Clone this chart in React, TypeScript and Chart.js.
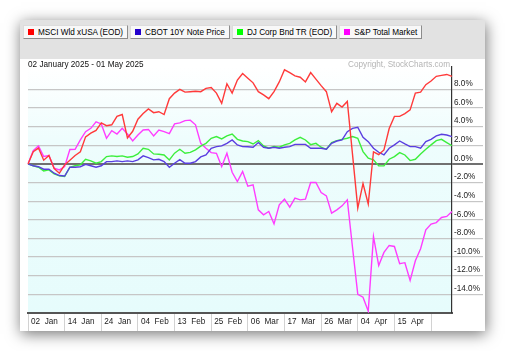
import React, { useEffect, useRef } from "react";
import { Chart, registerables } from "chart.js";

Chart.register(...registerables);

const FONT = "Arial, 'Liberation Sans', sans-serif";

// Trading days, 02 Jan 2025 - 01 May 2025
const dates = [
  "02 Jan","03 Jan","06 Jan","07 Jan","08 Jan","10 Jan","13 Jan","14 Jan","15 Jan","16 Jan",
  "17 Jan","21 Jan","22 Jan","23 Jan","24 Jan","27 Jan","28 Jan","29 Jan","30 Jan","31 Jan",
  "03 Feb","04 Feb","05 Feb","06 Feb","07 Feb","10 Feb","11 Feb","12 Feb","13 Feb","14 Feb",
  "18 Feb","19 Feb","20 Feb","21 Feb","24 Feb","25 Feb","26 Feb","27 Feb","28 Feb","03 Mar",
  "04 Mar","05 Mar","06 Mar","07 Mar","10 Mar","11 Mar","12 Mar","13 Mar","14 Mar","17 Mar",
  "18 Mar","19 Mar","20 Mar","21 Mar","24 Mar","25 Mar","26 Mar","27 Mar","28 Mar","31 Mar",
  "01 Apr","02 Apr","03 Apr","04 Apr","07 Apr","08 Apr","09 Apr","10 Apr","11 Apr","14 Apr",
  "15 Apr","16 Apr","17 Apr","21 Apr","22 Apr","23 Apr","24 Apr","25 Apr","28 Apr","29 Apr",
  "30 Apr","01 May"
];

// % change since 02 Jan 2025
const msciWldXUsa = [
  0, 1.3, 1.7, 0.4, 0.9, -0.5, -1.0, -0.1, 0.4, 0.9,
  1.3, 2.9, 3.3, 3.6, 4.4, 4.1, 4.2, 5.1, 5.3, 2.8,
  3.5, 4.8, 5.4, 5.9, 5.5, 5.6, 5.3, 7.0, 7.6, 8.0,
  7.7, 7.75, 7.8, 7.75, 8.1, 8.2, 7.6, 6.5, 8.6, 7.6,
  9.0, 9.7, 9.2, 8.7, 7.75, 7.4, 7.0, 7.75, 8.8, 10.1,
  9.8, 9.45, 9.3, 8.8, 9.8, 9.1, 8.4, 7.75, 5.6, 6.5,
  6.1, 6.7, 1.0, -4.75, -2.1, -4.3, 1.3, 1.0, 1.5, 3.8,
  5.1, 5.1, 5.4, 5.8, 7.6, 7.7, 8.5, 8.9, 9.4, 9.5,
  9.6, 9.4
];

const cbot10yNote = [
  0, -0.2, -0.3, -0.57, -0.57, -1.0, -1.25, -1.3, -0.36, -0.36,
  -0.3, -0.05, -0.2, -0.36, -0.2, 0.25, 0.25, 0.32, 0.25, 0.32,
  0.25, 0.43, 0.86, 0.68, 0.43, 0.5, 0.25, -0.36, 0.07, 0.45,
  0.07, 0.07, 0.25, 0.75, 0.96, 1.68, 1.86, 1.93, 2.21, 2.57,
  2.04, 1.86, 1.84, 1.79, 2.29, 1.79, 1.68, 1.79, 1.68, 1.79,
  1.86, 2.1, 2.1, 2.1, 1.68, 1.68, 1.68, 1.57, 2.21, 2.46,
  2.57, 3.46, 3.82, 3.93, 2.86, 2.39, 1.68, 1.25, 0.96, 1.68,
  2.04, 2.46, 2.14, 1.86, 1.86, 1.68, 2.39, 2.64, 3.0, 3.18,
  3.1, 2.93
];

const djCorpBond = [
  0, -0.2, -0.36, -0.75, -0.64, -1.07, -1.29, -1.36, -0.36, -0.2,
  -0.1, 0.5, 0.32, 0.07, 0.25, 0.79, 0.86, 0.79, 0.86, 0.71,
  0.79, 1.07, 1.68, 1.57, 1.07, 1.04, 0.96, 0.43, 1.15, 1.57,
  1.14, 1.23, 1.5, 1.9, 2.21, 2.75, 2.93, 2.68, 3.0, 3.21,
  2.64, 2.46, 2.39, 2.14, 2.5, 1.93, 1.68, 1.86, 1.79, 2.04,
  2.21, 2.57, 2.86, 2.57, 2.07, 2.21, 1.79, 1.57, 2.29, 2.5,
  2.64, 2.75, 2.93, 2.75, 1.32, 0.61, 0.43, -0.21, -0.21, 0.5,
  0.79, 1.21, 0.96, 0.36, 0.5, 1.07, 1.57, 2.04, 2.5, 2.64,
  2.29, 1.95
];

const spTotalMarket = [
  0, 1.43, 1.93, 0.79, 0.89, -0.46, -0.64, -0.29, 1.55, 1.57,
  2.57, 3.46, 3.82, 4.52, 4.29, 2.75, 3.57, 3.21, 3.82, 3.21,
  2.46, 3.11, 3.64, 3.7, 3.0, 3.64, 3.46, 3.25, 4.3, 4.4,
  4.65, 4.7, 4.2, 2.21, 1.68, 1.21, 1.14, -0.29, 1.14, -0.9,
  -1.9, -0.82, -2.4, -2.25, -4.93, -5.46, -5.1, -6.43, -4.39, -3.79,
  -4.64, -3.68, -3.86, -3.79, -2.0, -2.0, -3.07, -3.43, -5.29, -4.93,
  -4.5, -3.86, -9.0, -14.0, -14.3, -15.8, -7.8, -10.9, -9.5, -8.75,
  -8.86, -10.7, -10.6, -12.5, -10.4, -9.1, -7.07, -6.46, -6.3, -5.75,
  -5.64, -5.1
];

const yTickValues = [-14, -12, -10, -8, -6, -4, -2, 0, 2, 4, 6, 8];

const legendItems = [
  { label: "MSCI Wld xUSA (EOD)", color: "#ff0000" },
  { label: "CBOT 10Y Note Price", color: "#2200cc" },
  { label: "DJ Corp Bnd TR (EOD)", color: "#00ff00" },
  { label: "S&P Total Market", color: "#ff00ff" },
];

const lineColors = ["#ff3a3a", "#5a3ee0", "#3cee3c", "#ff3cff"];

export default function App() {
  const ref = useRef<HTMLCanvasElement>(null);

  useEffect(() => {
    const bgPlugin = {
      id: "plotBg",
      beforeDraw(chart: any) {
        const { ctx, chartArea: a } = chart;
        const g = ctx.createLinearGradient(0, a.top, 0, a.bottom);
        g.addColorStop(0, "#ffffff");
        g.addColorStop(0.3, "#eefdfd");
        g.addColorStop(1, "#e6fcfc");
        ctx.save();
        ctx.fillStyle = g;
        ctx.fillRect(a.left, a.top, a.right - a.left, a.bottom - a.top);
        ctx.restore();
      },
    };

    const series = [msciWldXUsa, cbot10yNote, djCorpBond, spTotalMarket];
    const chart = new Chart(ref.current as HTMLCanvasElement, {
      type: "line",
      data: {
        labels: dates,
        datasets: series.map((d, i) => ({
          label: legendItems[i].label,
          data: d,
          borderColor: lineColors[i],
          backgroundColor: lineColors[i],
          borderWidth: 1.4,
          pointRadius: 0,
          tension: 0,
          fill: false,
        })),
      },
      options: {
        animation: false,
        responsive: false,
        layout: { padding: { left: 28, top: 67, right: 13, bottom: 20 } },
        plugins: { legend: { display: false }, tooltip: { enabled: false } },
        scales: {
          x: {
            afterFit: (s: any) => {
              s.height = 18;
            },
            ticks: {
              autoSkip: false,
              maxRotation: 0,
              minRotation: 0,
              align: "start",
              labelOffset: 3,
              padding: -14,
              color: "#222",
              font: { family: FONT, size: 8.2 },
              callback: (_v: any, i: number) =>
                i % 7 === 0 && i <= 70 ? dates[i].replace(" ", "  ") : "",
            },
            grid: {
              drawOnChartArea: false,
              drawTicks: true,
              tickLength: 18,
              lineWidth: 1,
              color: (c: any) => (c.index % 7 === 0 ? "#d2d2d2" : "rgba(0,0,0,0)"),
            },
            border: { display: true, color: "#555", width: 2 },
          },
          y: {
            position: "right",
            min: -16,
            max: 10.4,
            afterFit: (s: any) => {
              s.width = 40;
            },
            afterBuildTicks: (s: any) => {
              s.ticks = yTickValues.map((v) => ({ value: v }));
            },
            ticks: {
              padding: -29,
              labelOffset: -5.5,
              color: "#222",
              font: { family: FONT, size: 8.2 },
              callback: (v: any) => Number(v).toFixed(1) + "%",
            },
            grid: {
              drawTicks: true,
              tickLength: 31,
              color: (c: any) => (c.tick && c.tick.value === 0 ? "#707070" : "#c6c6c6"),
              lineWidth: (c: any) => (c.tick && c.tick.value === 0 ? 2 : 1.2),
            },
            border: { display: true, color: "#333", width: 1.2 },
          },
        },
      } as any,
      plugins: [bgPlugin],
    });
    return () => chart.destroy();
  }, []);

  return (
    <div
      style={{
        position: "fixed",
        left: 0,
        top: 0,
        width: 505,
        height: 351,
        background: "#fff",
        overflow: "hidden",
        fontFamily: FONT,
      }}
    >
      <div
        style={{
          position: "absolute",
          left: 20,
          top: 20,
          width: 465,
          height: 311,
          background: "#fff",
          boxShadow: "1px 3px 14px rgba(0,0,0,0.55)",
        }}
      />
      <div
        style={{
          position: "absolute",
          left: 20,
          top: 20,
          width: 465,
          height: 39,
          background: "#e2e2e2",
        }}
      />
      <div
        style={{
          position: "absolute",
          left: 23,
          top: 25,
          display: "flex",
          gap: 2,
        }}
      >
        {legendItems.map((it) => (
          <div
            key={it.label}
            style={{
              display: "flex",
              alignItems: "center",
              height: 14,
              boxSizing: "border-box",
              padding: "0 4px 0 4px",
              border: "1px solid",
              borderColor: "#dcdcdc #8c8c8c #8c8c8c #dcdcdc",
              background: "#f8f8f8",
              fontSize: 8.2,
              color: "#000",
              whiteSpace: "nowrap",
            }}
          >
            <span
              style={{
                display: "inline-block",
                width: 6,
                height: 6,
                background: it.color,
                marginRight: 4,
              }}
            />
            {it.label}
          </div>
        ))}
      </div>
      <canvas
        ref={ref}
        width={505}
        height={351}
        style={{ position: "absolute", left: 0, top: 0, width: 505, height: 351 }}
      />
      <div
        style={{
          position: "absolute",
          left: 28,
          top: 60,
          fontSize: 8.2,
          lineHeight: "10px",
          color: "#111",
          whiteSpace: "nowrap",
        }}
      >
        02 January 2025 - 01 May 2025
      </div>
      <div
        style={{
          position: "absolute",
          right: 55,
          top: 60,
          fontSize: 8.2,
          lineHeight: "10px",
          color: "#b4b4b4",
          whiteSpace: "nowrap",
        }}
      >
        Copyright, StockCharts.com
      </div>
    </div>
  );
}
